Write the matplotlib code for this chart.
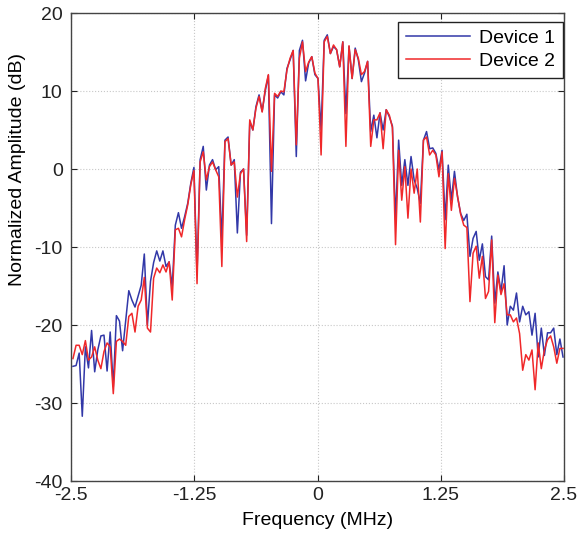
import numpy as np
import matplotlib
matplotlib.use("Agg")
import matplotlib.pyplot as plt

plt.rcParams['font.family'] = ['Liberation Sans', 'DejaVu Sans']
plt.rcParams['axes.unicode_minus'] = False

device1 = [
    -25.3, -25.2, -23.6, -31.7, -22.8, -25.5, -20.7, -26.0, -23.2, -21.4,
    -21.3, -25.9, -20.9, -27.9, -18.8, -19.5, -23.3, -19.5, -15.6, -16.8,
    -17.7, -16.3, -14.9, -10.9, -20.0, -14.4, -12.0, -10.5, -11.8, -10.5,
    -12.5, -11.9, -15.1, -7.2, -5.6, -7.6, -6.1, -4.4, -1.8, 0.2,
    -13.5, 1.2, 2.9, -2.7, 0.5, 1.2, -0.1, 0.3, -9.1, 3.7,
    4.1, 0.5, 1.2, -8.2, -0.4, 0.0, -8.5, 6.1, 5.0, 8.0,
    9.5, 7.4, 10.0, 12.0, -7.0, 9.5, 9.1, 9.9, 9.5, 12.9,
    14.0, 15.2, 1.6, 15.2, 16.5, 11.3, 13.6, 14.4, 12.1, 11.6,
    5.0, 16.5, 17.2, 14.8, 15.7, 15.3, 13.1, 16.3, 7.1, 15.7,
    11.6, 15.5, 14.0, 11.2, 12.3, 13.8, 4.8, 6.9, 4.0, 7.2,
    5.0, 7.6, 6.7, 5.5, -6.5, 3.7, -2.1, 1.2, -2.1, 1.6,
    -1.4, -2.5, -4.4, 3.7, 4.8, 2.6, 2.7, 2.0, -0.1, 2.4,
    -6.5, 0.5, -4.0, -0.3, -3.6, -5.7, -6.6, -5.8, -11.2, -8.9,
    -8.0, -11.7, -9.6, -13.8, -14.2, -8.6, -17.2, -13.2, -15.7, -12.4,
    -20.0, -17.6, -18.1, -15.9, -19.6, -17.6, -18.7, -18.3, -21.3, -18.5,
    -24.1, -20.4, -23.9, -21.0, -21.0, -20.4, -23.8, -21.8, -24.1,
]
device2 = [
    -24.3, -22.6, -22.6, -23.8, -22.0, -24.5, -24.1, -22.8, -24.5, -25.6,
    -23.4, -22.3, -22.8, -28.8, -22.1, -21.8, -22.1, -22.6, -18.9, -18.5,
    -20.9, -17.6, -16.8, -13.9, -20.4, -20.9, -14.0, -12.7, -13.3, -12.3,
    -13.2, -11.9, -16.8, -7.8, -7.6, -8.7, -6.5, -4.6, -2.0, -0.2,
    -14.7, 0.9, 2.2, -1.4, 0.3, 0.9, -0.1, -1.0, -12.5, 3.5,
    3.9, 0.5, 0.9, -3.6, -0.6, 0.0, -9.3, 6.3, 5.0, 7.8,
    9.3, 7.3, 10.3, 12.1, -0.3, 9.7, 9.3, 10.0, 9.9, 12.7,
    14.2, 15.2, 3.1, 14.2, 16.3, 12.5, 13.7, 14.4, 12.3, 11.6,
    1.8, 16.3, 17.0, 14.8, 15.9, 15.3, 13.1, 16.3, 2.9, 15.8,
    11.6, 15.3, 14.2, 12.1, 12.5, 13.8, 2.9, 6.3, 6.3, 7.2,
    2.6, 7.6, 6.9, 5.3, -9.7, 2.4, -4.0, 0.3, -6.3, 0.0,
    -3.1, 0.0, -6.8, 3.7, 4.1, 1.8, 2.4, 1.8, -1.0, 2.2,
    -10.2, -0.6, -5.3, -1.2, -3.5, -5.8, -7.2, -7.5, -17.0, -10.8,
    -9.9, -14.0, -11.2, -16.6, -15.7, -9.1, -19.7, -13.6, -16.1, -14.7,
    -18.7, -18.7, -19.6, -19.1, -21.1, -25.8, -23.8, -24.5, -23.2, -28.3,
    -22.3, -25.6, -23.2, -21.9, -21.4, -22.8, -24.9, -23.0, -23.0,
]
freq_start, freq_end = -2.48, 2.49
xticks = [-2.5, -1.25, 0, 1.25, 2.5]
xticklabels = ['-2.5', '-1.25', '0', '1.25', '2.5']
yticks = [-40, -30, -20, -10, 0, 10, 20]

freq = np.linspace(freq_start, freq_end, len(device1))

fig = plt.figure(figsize=(5.79, 5.36), dpi=100)
ax = fig.add_axes([71/579, 55/536, 493/579, 468/536])

ax.plot(freq, device1, color='#3238a8', lw=1.1, label='Device 1')
ax.plot(freq, device2, color='#f0282a', lw=1.1, label='Device 2')

ax.set_xlim(-2.5, 2.5)
ax.set_ylim(-40, 20)
ax.set_xticks(xticks)
ax.set_xticklabels(xticklabels)
ax.set_yticks(yticks)
ax.grid(True, linestyle=':', color='#c8c8c8', lw=0.8)
ax.tick_params(direction='in', top=True, right=True, labelsize=14, length=4,
               colors='#222222')
ax.tick_params(axis='x', pad=4)
ax.tick_params(axis='y', pad=6)
for s in ax.spines.values():
    s.set_color('#444444')
    s.set_linewidth(1.0)

ax.set_xlabel('Frequency (MHz)', fontsize=14, labelpad=6)
ax.set_ylabel('Normalized Amplitude (dB)', fontsize=14)
ax.yaxis.set_label_coords(-0.092, 0.665)

leg = ax.legend(loc='upper right', bbox_to_anchor=(0.997, 0.981), fontsize=14,
                fancybox=False, framealpha=1, edgecolor='#222222',
                borderaxespad=0, handlelength=3.3, handletextpad=0.45,
                borderpad=0.4, labelspacing=0.25)
leg.get_frame().set_linewidth(1.0)

fig.savefig('out.png', dpi=100)
